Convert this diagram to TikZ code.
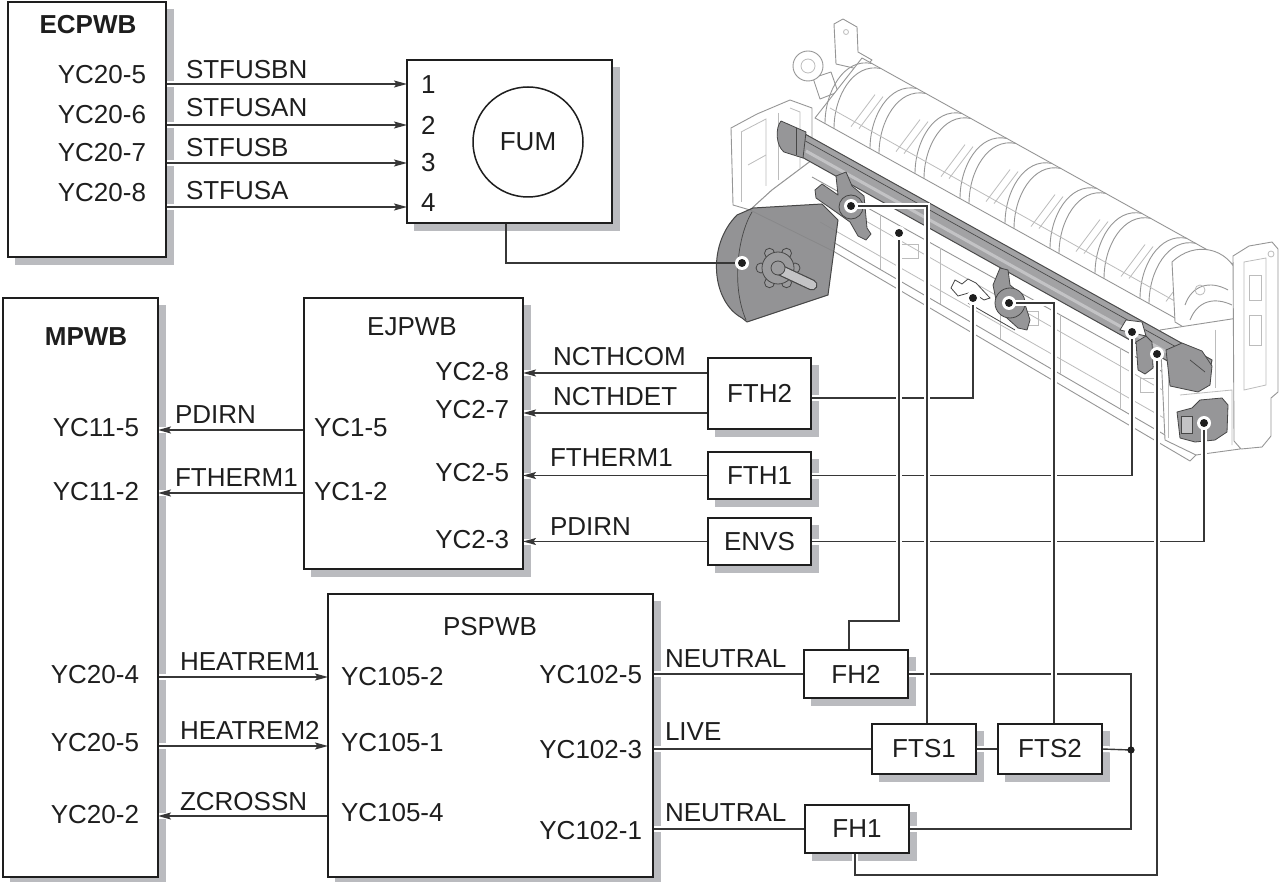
\documentclass[tikz,border=0pt]{standalone}
\usepackage{fontspec}
\setmainfont{Liberation Sans}
\usetikzlibrary{arrows.meta,calc}
\pgfdeclarelayer{back}
\pgfsetlayers{back,main}
\definecolor{ink}{RGB}{30,30,30}
\definecolor{wirec}{RGB}{55,55,55}
\definecolor{shadowc}{RGB}{186,187,191}
\definecolor{frameC}{RGB}{150,150,150}
\definecolor{frameLt}{RGB}{188,188,188}
\definecolor{partGray}{RGB}{150,150,152}
\definecolor{partDk}{RGB}{70,70,70}
\definecolor{rollerGray}{RGB}{162,162,164}
\definecolor{rollerEdge}{RGB}{75,75,75}
\definecolor{gearGray}{RGB}{155,155,157}
\definecolor{motorGray}{RGB}{135,135,137}
\definecolor{hilite}{RGB}{195,195,197}

\begin{document}
\begin{tikzpicture}[x=1pt,y=-1pt,
  lbl/.style={font=\fontsize{26}{30}\selectfont, text=ink, inner sep=0pt, outer sep=0pt},
  ttl/.style={font=\fontsize{26}{30}\selectfont\bfseries, text=ink, inner sep=0pt, outer sep=0pt},
  board/.style={draw=ink, line width=2pt, fill=white, inner sep=0pt, outer sep=0pt,
                anchor=north west, font=\fontsize{26}{30}\selectfont, text=ink},
  dropshadow/.style={fill=shadowc},
  wire/.style={draw=wirec, line width=1.4pt, preaction={draw=white, line width=6pt, -}},
  plainwire/.style={draw=wirec, line width=1.4pt},
  sig/.style={wire, -{Stealth[length=13pt,width=7pt,inset=2.5pt]}},
  ilBody/.style={draw=frameC, line width=0.9pt, fill=white, line join=round},
  ilLine/.style={draw=frameC, line width=0.9pt, line join=round},
  ilFaint/.style={draw=frameLt, line width=0.8pt},
  ilPart/.style={fill=partGray, draw=partDk, line width=0.8pt, line join=round},
  ilRoller/.style={fill=rollerGray, draw=rollerEdge, line width=1pt, line join=round},
  ilMotor/.style={fill=motorGray, fill opacity=0.9, draw=partDk, line width=1pt, line join=round},
  ilGear/.style={fill=gearGray, draw=partDk, line width=0.8pt},
]
\useasboundingbox (0,0) rectangle (1279,882);

% ---------- points on the fuser unit where the wires end ----------
\coordinate (dM)    at (742,263);
\coordinate (dFTS1) at (851,206);
\coordinate (dFH2)  at (899,233);
\coordinate (dFTH2) at (973,298);
\coordinate (dFTS2) at (1009,303);
\coordinate (dFTH1) at (1132,332);
\coordinate (dFH1)  at (1157,354);
\coordinate (dENVS) at (1204,423);
\coordinate (bus)   at (1131,750);

% ---------- boards ----------
\node[board, minimum width=158pt, minimum height=255pt] (ecpwb) at (8,2) {};
\node[board, minimum width=205pt, minimum height=163pt] (fum) at (407,60) {};
\node[board, minimum width=155pt, minimum height=579pt] (mpwb) at (3,298) {};
\node[board, minimum width=219pt, minimum height=271pt] (ejpwb) at (304,298) {};
\node[board, minimum width=325pt, minimum height=283pt] (pspwb) at (328,594) {};
\node[board, minimum width=103pt, minimum height=71pt] (fth2) at (708,358) {FTH2};
\node[board, minimum width=103pt, minimum height=47pt] (fth1) at (708,452) {FTH1};
\node[board, minimum width=103pt, minimum height=47pt] (envs) at (708,518) {ENVS};
\node[board, minimum width=104pt, minimum height=48pt] (fh2) at (804,650) {FH2};
\node[board, minimum width=104pt, minimum height=50pt] (fts1) at (872,724) {FTS1};
\node[board, minimum width=104pt, minimum height=50pt] (fts2) at (998,724) {FTS2};
\node[board, minimum width=104pt, minimum height=48pt] (fh1) at (805,805) {FH1};
\node[circle, draw=ink, line width=1.5pt, fill=white, minimum size=110pt, inner sep=0pt,
      outer sep=0pt, font=\fontsize{26}{30}\selectfont, text=ink] (fumc) at (528,142) {FUM};

% ---------- fuser unit drawing ----------
\begin{pgfonlayer}{back}
  % rear plate and knob at the drive end
  \filldraw[ilBody] (834,24) -- (843,19) -- (857,27) -- (858,52) -- (872,60) -- (862,70) -- (836,64) -- cycle;
  \draw[ilFaint] (846,32) circle (2.5pt);
  \filldraw[ilBody] (813,78) -- (831,72) -- (838,92) -- (820,99) -- cycle;
  \filldraw[ilBody] (808,66) circle (15pt);
  \draw[ilFaint] (808,66) circle (7pt);
  % drive-end frame
  \filldraw[ilBody] (731,128) -- (757,114) -- (790,100) -- (812,108) -- (812,160) -- (772,190) -- (750,210) -- (733,205) -- cycle;
  \draw[ilFaint] (741,132) -- (741,202);
  \draw[ilFaint] (741,132) -- (766,119) -- (766,186);
  \draw[ilFaint] (748,165) -- (766,155);
  \draw[ilFaint] (778,113) -- (778,180);
  \draw[ilFaint] (790,108) -- (800,112) -- (800,168);
  % upper cover with separator ribs
  \filldraw[ilBody] (815,118) -- (862,58) -- (1240,268) -- (1193,328) -- cycle;
  \foreach \s in {10,55,...,325} {
    \draw[ilLine] ($(815,118)+(\s,0.555*\s)$) .. controls +(0,-32) and +(-28,-6) .. +(47,-60);
    \draw[ilLine] ($(815,118)+(\s+9,0.555*\s+5)$) .. controls +(0,-32) and +(-28,-6) .. +(47,-60);
  }
  \foreach \s in {30,75,...,345} {
    \draw[ilFaint] ($(815,118)+(\s+6,0.555*\s-8)$) -- +(24,-32);
    \draw[ilFaint] ($(815,118)+(\s+14,0.555*\s-6)$) -- +(24,-32);
  }
  \draw[ilFaint] (830,108) -- (1205,318);
  % front face and lower rails
  \filldraw[ilBody] (812,150) -- (1200,365) -- (1196,455) -- (1190,461) -- (833,251) -- (750,210) -- (772,190) -- (812,160) -- cycle;
  \draw[ilLine] (812,177) -- (1190,387);
  \draw[ilFaint] (850,212) -- (1180,400);
  \draw[ilLine] (833,242) -- (1196,453);
  \draw[ilFaint] (820,222) -- (1185,430);
  \foreach \x in {880,940,1000,1060,1120}
    \draw[ilFaint] (\x,{177+0.555*(\x-812)}) -- (\x,{242+0.581*(\x-833)});
  \foreach \x in {900,1020,1140}
    \draw[ilFaint] (\x,{196+0.555*(\x-812)}) rectangle +(18,14);
  % non-drive end
  \filldraw[ilBody] (1172,262) .. controls (1195,240) and (1228,248) .. (1238,275) -- (1238,330) -- (1205,340) -- (1175,322) -- cycle;
  \draw[ilLine] (1185,305) .. controls (1192,285) and (1210,280) .. (1228,290);
  \draw[ilLine] (1190,320) .. controls (1198,300) and (1215,297) .. (1232,305);
  \draw[ilFaint] (1200,290) circle (5pt);
  \filldraw[ilBody] (1160,330) -- (1238,318) -- (1240,449) -- (1196,455) -- (1165,440) -- cycle;
  \draw[ilFaint] (1168,345) -- (1168,438);
  \draw[ilFaint] (1180,395) -- (1232,390) -- (1232,445);
  \draw[ilFaint] (1215,330) -- (1215,388);
  \draw[ilFaint] (1175,352) rectangle (1195,372);
  \filldraw[ilBody] (1233,256) -- (1249,246) -- (1272,242) -- (1278,249) -- (1278,392) -- (1271,398) -- (1271,436) -- (1262,447) -- (1241,449) -- (1234,441) -- cycle;
  \draw[ilFaint] (1244,262) -- (1266,258) -- (1266,385) -- (1244,390) -- cycle;
  \draw[ilFaint] (1249,275) rectangle (1261,300);
  \draw[ilFaint] (1249,315) rectangle (1261,345);
  \draw[ilFaint] (1271,254) circle (3pt);
  % heat roller
  \filldraw[ilRoller] (787,124) -- (1212,360) -- (1207,383) -- (782,146) -- cycle;
  \draw[draw=hilite, line width=3pt] (806,151) -- (1195,368);
  \draw[draw=rollerEdge, line width=0.7pt] (800,138) -- (1205,363);
  \filldraw[ilPart] (781,121) .. controls (775,128) and (776,146) .. (784,152) -- (803,158) -- (806,132) -- cycle;
  \draw[partDk, line width=0.7pt] (796,128) -- (796,155);
  \filldraw[ilPart] (1166,350) -- (1182,343) -- (1202,351) -- (1212,366) -- (1210,385) -- (1198,392) -- (1170,386) -- cycle;
  \draw[partDk, line width=0.7pt] (1190,360) -- (1205,372);
  % thermostats, thermistors and sensor
  \filldraw[ilPart] (815,190) -- (822,184) -- (838,195) -- (836,176) -- (846,172) -- (852,186) -- (864,196) -- (867,228) -- (871,234) -- (866,240) -- (858,236) -- (850,222) -- (836,212) -- (816,198) -- cycle;
  \filldraw[ilPart] (851,207) circle (12pt);
  \filldraw[ilPart] (993,285) -- (1000,268) -- (1008,270) -- (1010,285) -- (1022,295) -- (1030,320) -- (1027,330) -- (1018,328) -- (998,310) -- cycle;
  \filldraw[ilPart] (1010,303) circle (15pt);
  \filldraw[fill=white, draw=partDk, line width=0.8pt] (951,288) -- (955,280) -- (962,284) -- (968,279) -- (976,283) -- (990,298) -- (984,300) -- (972,292) -- (958,296) -- cycle;
  \draw[partDk, line width=0.8pt] (968,303) -- (1015,330);
  \filldraw[fill=white, draw=partDk, line width=0.8pt] (1120,330) -- (1126,320) -- (1142,322) -- (1146,336) -- cycle;
  \filldraw[ilPart] (1136,342) -- (1146,336) -- (1152,342) -- (1153,368) -- (1145,374) -- (1138,370) -- cycle;
  \filldraw[ilPart] (1177,412) -- (1192,408) -- (1200,400) -- (1222,398) -- (1228,405) -- (1227,432) -- (1215,440) -- (1195,442) -- (1180,438) -- cycle;
  \filldraw[fill=hilite, draw=partDk, line width=0.6pt] (1181,416) rectangle (1192,433);
  % fuser motor
  \filldraw[ilMotor] (753,208) -- (822,204) -- (838,220) -- (828,295) -- (747,322) -- (742,318)
    .. controls (712,302) and (706,246) .. (737,215) -- cycle;
  \draw[partDk, line width=0.7pt] (752,212) .. controls (738,235) and (731,285) .. (746,320);
  \foreach \a in {0,60,...,300}
    \filldraw[ilGear] ($(778,268)+(\a:17pt)$) circle (5pt);
  \filldraw[ilGear] (778,268) circle (16pt);
  \draw[partDk, line width=11pt, line cap=round] (780,270) -- (812,285);
  \draw[draw=hilite, line width=8.6pt, line cap=round] (780,270) -- (812,285);
  \filldraw[ilGear] (778,268) circle (7pt);

  % ---------- drop shadows of the boards ----------
  \foreach \n in {ecpwb,fum,mpwb,ejpwb,pspwb,fth2,fth1,envs,fh2,fts1,fts2,fh1}
    \path[dropshadow] ($(\n.north west)+(7,7)$) rectangle ($(\n.south east)+(8,8)$);
  \path[dropshadow] ($(fumc.center)+(5,5)$) circle (55.5pt);

  % ---------- signal lines ----------
  \foreach \y in {84,125,163,207}
    \draw[sig] (ecpwb.east |- 0,\y) -- (fum.west |- 0,\y);
  \foreach \y in {430,493}
    \draw[sig] (ejpwb.west |- 0,\y) -- (mpwb.east |- 0,\y);
  \draw[sig] (fth2.west |- 0,373) -- (ejpwb.east |- 0,373);
  \draw[sig] (fth2.west |- 0,413) -- (ejpwb.east |- 0,413);
  \draw[sig] (fth1.west) -- (ejpwb.east |- fth1.west);
  \draw[sig] (envs.west) -- (ejpwb.east |- envs.west);
  \draw[sig] (mpwb.east |- 0,677) -- (pspwb.west |- 0,677);
  \draw[sig] (mpwb.east |- 0,746) -- (pspwb.west |- 0,746);
  \draw[sig] (pspwb.west |- 0,816) -- (mpwb.east |- 0,816);

  % ---------- heater power lines ----------
  \draw[wire] (pspwb.east |- fh2.west) -- (fh2.west);
  \draw[wire] (pspwb.east |- fts1.west) -- (fts1.west);
  \draw[wire] (pspwb.east |- fh1.west) -- (fh1.west);
  \draw[wire] (fts1.east) -- (fts2.west);

  % ---------- leads into the fuser unit ----------
  \draw[plainwire] ($(fum.south west)+(99,0)$) |- (dM);
  \draw[wire] (fth2.east |- 0,398) -| (dFTH2);
  \draw[wire] (fth1.east) -| (dFTH1);
  \draw[wire] (envs.east) -| (dENVS);
  \draw[wire] (fts2.east) -- (bus);
  \draw[wire] (fh2.east) -| (bus);
  \draw[wire] (fh1.east) -| (bus);
  \draw[wire] ($(fh2.north)+(-7,0)$) -- ++(0,-29) -| (dFH2);
  \draw[wire] ($(fts1.north)+(3,0)$) |- (dFTS1);
  \draw[wire] ($(fts2.north)+(4,0)$) |- (dFTS2);
  \draw[wire] ($(fh1.south)+(-2,0)$) -- ++(0,22) -| (dFH1);

  % ---------- junction and lead-end dots ----------
  \fill[ink] (bus) circle (3.6pt);
  \foreach \p in {dM,dFTS1,dFH2,dFTH2,dFTS2,dFTH1,dFH1,dENVS} {
    \fill[white] (\p) circle (7pt);
    \fill[ink] (\p) circle (4pt);
  }
\end{pgfonlayer}

% ---------- texts ----------
\node[ttl] (tEcp) at (88,25) {ECPWB};
\node[ttl] (tMp) at (86,337) {MPWB};
\node[lbl] (tEjp) at (412,327) {EJPWB};
\node[lbl] (tPsp) at (490,627) {PSPWB};

\node[lbl, anchor=east] (e5) at (146,75) {YC20-5};
\node[lbl, anchor=east] (e6) at (146,115) {YC20-6};
\node[lbl, anchor=east] (e7) at (146,153) {YC20-7};
\node[lbl, anchor=east] (e8) at (146,193) {YC20-8};
\node[lbl, anchor=west] (s1) at (186,70) {STFUSBN};
\node[lbl, anchor=west] (s2) at (186,108) {STFUSAN};
\node[lbl, anchor=west] (s3) at (186,148) {STFUSB};
\node[lbl, anchor=west] (s4) at (186,191) {STFUSA};
\node[lbl, anchor=west] (f1) at (421,85) {1};
\node[lbl, anchor=west] (f2) at (421,125) {2};
\node[lbl, anchor=west] (f3) at (421,163) {3};
\node[lbl, anchor=west] (f4) at (421,203) {4};

\node[lbl, anchor=east] (m1) at (139,428) {YC11-5};
\node[lbl, anchor=east] (m2) at (139,492) {YC11-2};
\node[lbl, anchor=east] (m3) at (139,675) {YC20-4};
\node[lbl, anchor=east] (m4) at (139,743) {YC20-5};
\node[lbl, anchor=east] (m5) at (139,815) {YC20-2};
\node[lbl, anchor=west] (a1) at (175,415) {PDIRN};
\node[lbl, anchor=west] (a2) at (175,478) {FTHERM1};
\node[lbl, anchor=west] (a3) at (180,662) {HEATREM1};
\node[lbl, anchor=west] (a4) at (180,730) {HEATREM2};
\node[lbl, anchor=west] (a5) at (180,802) {ZCROSSN};

\node[lbl, anchor=west] (j1) at (314,428) {YC1-5};
\node[lbl, anchor=west] (j2) at (314,492) {YC1-2};
\node[lbl, anchor=east] (j3) at (509,372) {YC2-8};
\node[lbl, anchor=east] (j4) at (509,410) {YC2-7};
\node[lbl, anchor=east] (j5) at (509,473) {YC2-5};
\node[lbl, anchor=east] (j6) at (509,540) {YC2-3};
\node[lbl, anchor=west] (b1) at (553,357) {NCTHCOM};
\node[lbl, anchor=west] (b2) at (553,397) {NCTHDET};
\node[lbl, anchor=west] (b3) at (550,458) {FTHERM1};
\node[lbl, anchor=west] (b4) at (550,527) {PDIRN};

\node[lbl, anchor=west] (p1) at (341,677) {YC105-2};
\node[lbl, anchor=west] (p2) at (341,743) {YC105-1};
\node[lbl, anchor=west] (p3) at (341,813) {YC105-4};
\node[lbl, anchor=east] (p4) at (642,675) {YC102-5};
\node[lbl, anchor=east] (p5) at (642,750) {YC102-3};
\node[lbl, anchor=east] (p6) at (642,831) {YC102-1};
\node[lbl, anchor=west] (n1) at (665,659) {NEUTRAL};
\node[lbl, anchor=west] (n2) at (665,732) {LIVE};
\node[lbl, anchor=west] (n3) at (665,813) {NEUTRAL};
\end{tikzpicture}
\end{document}
